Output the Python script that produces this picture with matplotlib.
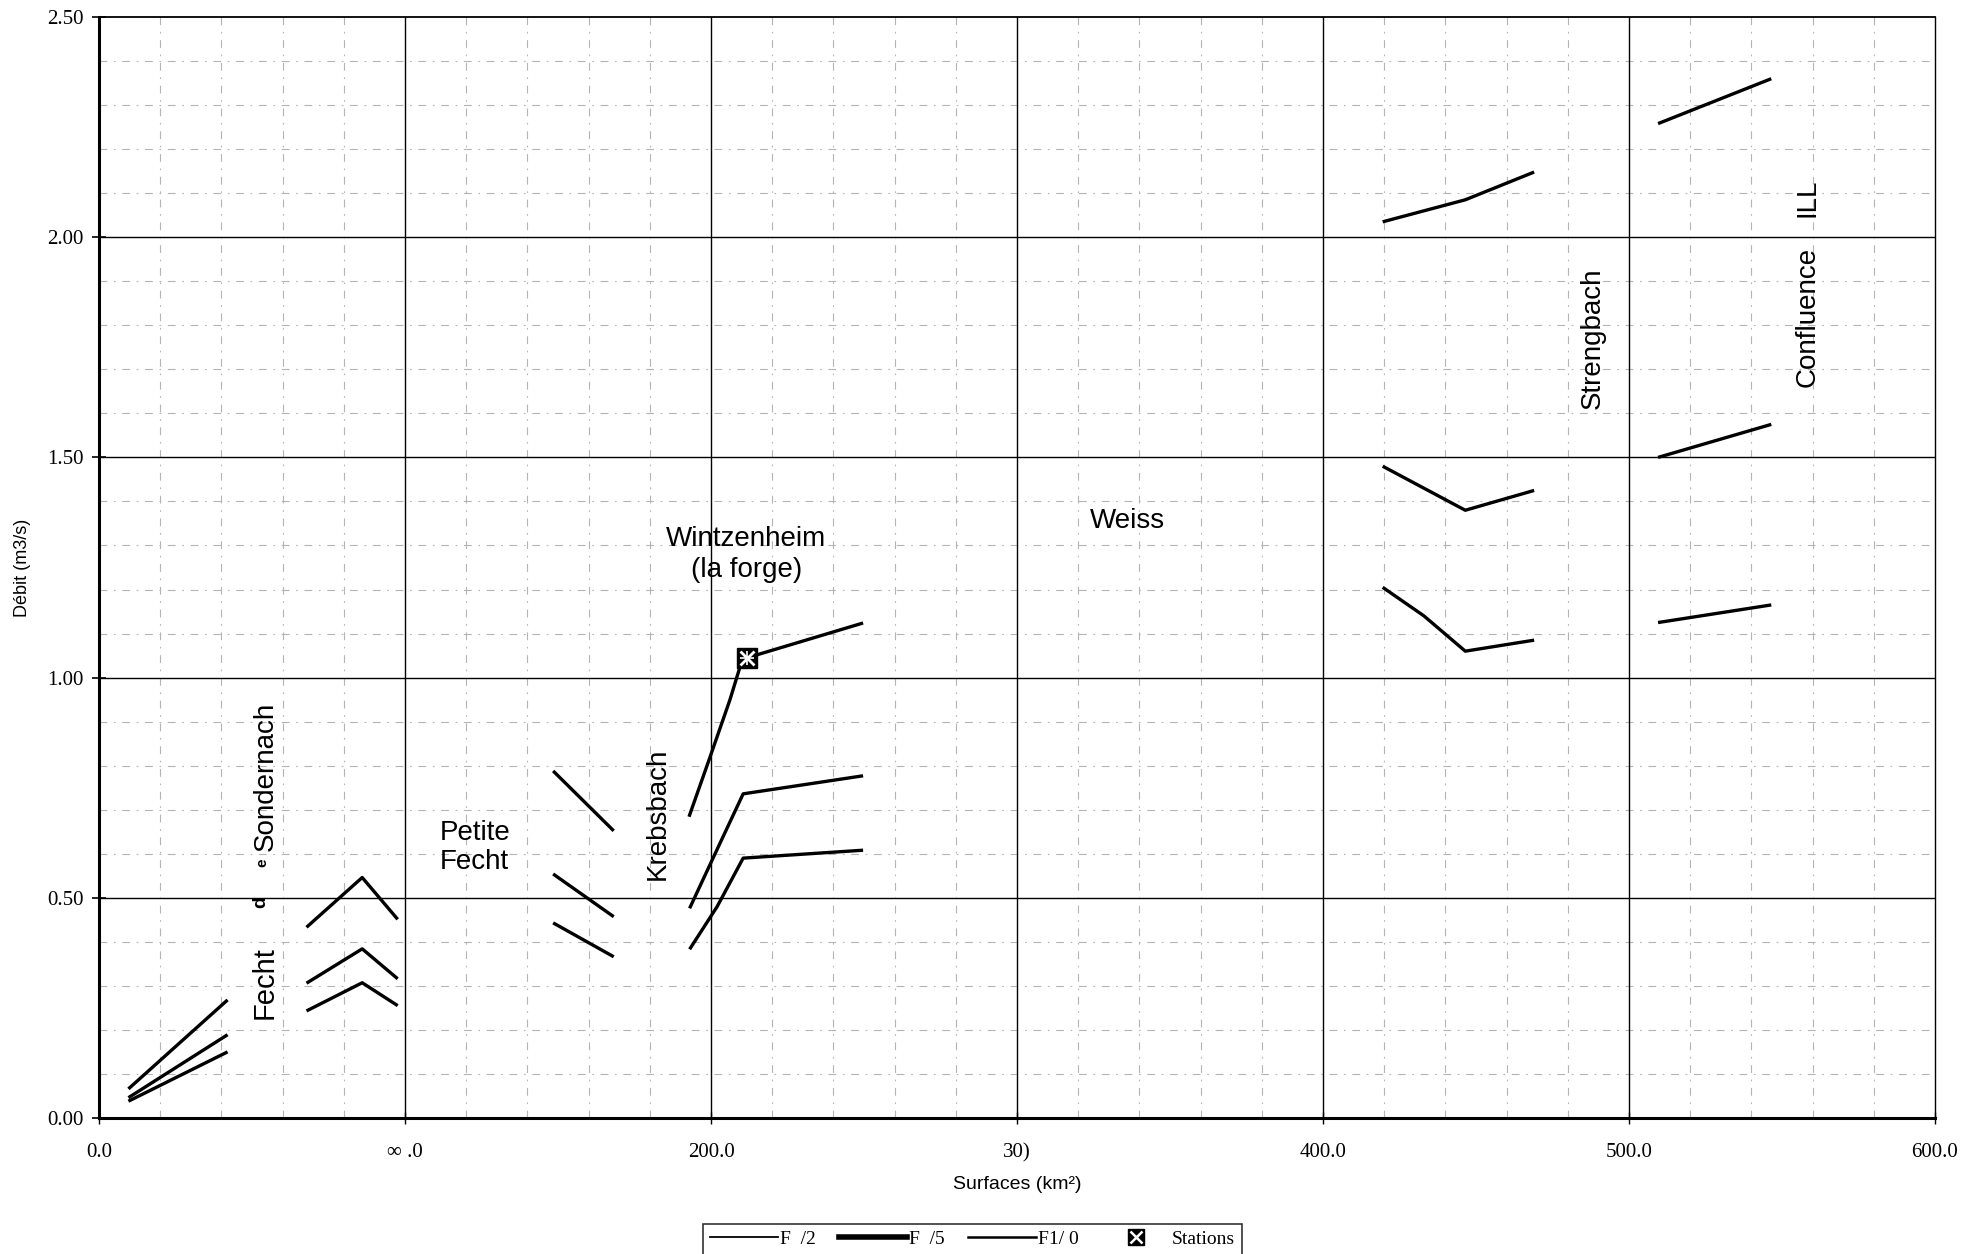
import matplotlib
matplotlib.use("Agg")
import matplotlib.pyplot as plt
from matplotlib.lines import Line2D
from matplotlib.legend_handler import HandlerTuple
import numpy as np

# ---------------- data ----------------
fecht_x = [9.6, 42.0]
fecht_f2 = [0.038, 0.150]
fecht_f5 = [0.046, 0.189]
fecht_f10 = [0.066, 0.268]

sond_x = [67.8, 86.0, 97.6]
sond_f2 = [0.243, 0.307, 0.255]
sond_f5 = [0.306, 0.384, 0.316]
sond_f10 = [0.433, 0.546, 0.451]

pfecht_x = [148.4, 168.2]
pfecht_f2 = [0.443, 0.366]
pfecht_f5 = [0.554, 0.457]
pfecht_f10 = [0.788, 0.652]

wintz_x10 = [192.8, 199.7, 206.2, 209.5, 211.8, 249.7]
wintz_f10 = [0.684, 0.820, 0.950, 1.025, 1.045, 1.124]
wintz_x5 = [193.0, 202.0, 210.5, 249.7]
wintz_f5 = [0.476, 0.610, 0.736, 0.777]
wintz_x2 = [193.0, 202.0, 210.5, 249.7]
wintz_f2 = [0.383, 0.480, 0.590, 0.608]

weiss_x = [419.5, 446.5, 469.0]
weiss_f10 = [2.035, 2.085, 2.148]
weiss_f5 = [1.480, 1.380, 1.425]
weiss_x2 = [419.5, 433.0, 446.5, 469.0]
weiss_f2 = [1.205, 1.140, 1.060, 1.085]

ill_x = [509.5, 546.5]
ill_f10 = [2.258, 2.360]
ill_f5 = [1.500, 1.575]
ill_f2 = [1.125, 1.165]

station_x = [211.8]
station_y = [1.045]

yticks = [0.0, 0.5, 1.0, 1.5, 2.0, 2.5]
ytick_labels = ["0.00", "0.50", "1.00", "1.50", "2.00", "2.50"]
xticks = [0, 100, 200, 300, 400, 500, 600]
xtick_labels = ["0.0", "\u221e .0", "200.0", "30)", "400.0", "500.0", "600.0"]

legend_labels = ["F  /2", "F  /5", "F1/ 0", "Stations"]

# ---------------- figure ----------------
fig = plt.figure(figsize=(19.85, 12.54), dpi=100)
ax = fig.add_axes([0.0499, 0.1085, 0.9249, 0.8779])
ax.set_xlim(0, 600)
ax.set_ylim(0, 2.5)

# grids
for xv in np.arange(20, 600, 20):
    if xv % 100 != 0:
        ax.axvline(xv, color="#b4b4b4", lw=0.8, ls=(0, (7, 6, 1.5, 6)), zorder=1)
for k in range(1, 25):
    if k % 5 != 0:
        ax.axhline(k / 10.0, color="#b4b4b4", lw=0.8, ls=(0, (7, 6, 1.5, 6)), zorder=1)
for xv in [100, 200, 300, 400, 500]:
    ax.axvline(xv, color="black", lw=1.0, zorder=1.5)
for yv in [0.5, 1.0, 1.5, 2.0]:
    ax.axhline(yv, color="black", lw=1.0, zorder=1.5)

lw = 2.4
series = [
    (fecht_x, fecht_f2), (fecht_x, fecht_f5), (fecht_x, fecht_f10),
    (sond_x, sond_f2), (sond_x, sond_f5), (sond_x, sond_f10),
    (pfecht_x, pfecht_f2), (pfecht_x, pfecht_f5), (pfecht_x, pfecht_f10),
    (wintz_x2, wintz_f2), (wintz_x5, wintz_f5), (wintz_x10, wintz_f10),
    (weiss_x2, weiss_f2), (weiss_x, weiss_f5), (weiss_x, weiss_f10),
    (ill_x, ill_f2), (ill_x, ill_f5), (ill_x, ill_f10),
]
for xs, ys in series:
    ax.plot(xs, ys, color="black", lw=lw, solid_capstyle="butt", zorder=3)

ax.plot(station_x, station_y, ls="none", marker="s", ms=14, color="black", zorder=4)
ax.plot(station_x, station_y, ls="none", marker="x", ms=10, mew=2.0, color="white", zorder=5)
ax.plot(station_x, station_y, ls="none", marker="+", ms=10, mew=1.2, color="white", zorder=5)

# text labels
sans = ["Liberation Sans", "DejaVu Sans"]
fs = 20
ax.text(54.0, 0.307, "Fecht", rotation=90, ha="center", va="center", fontsize=21, family=sans)
ax.text(53.0, 0.49, "d", rotation=90, ha="center", va="center", fontsize=14, family=sans, weight="bold")
ax.text(53.5, 0.58, "e", rotation=90, ha="center", va="center", fontsize=11, family=sans, weight="bold")
ax.text(54.5, 0.775, "Sondernach", rotation=90, ha="center", va="center", fontsize=fs, family=sans)
ax.text(122.8, 0.615, "Petite\nFecht", ha="center", va="center", fontsize=fs, family=sans, linespacing=1.15)
ax.text(182.5, 0.69, "Krebsbach", rotation=90, ha="center", va="center", fontsize=fs, family=sans)
ax.text(211.5, 1.28, "Wintzenheim\n(la forge)", ha="center", va="center", fontsize=fs, family=sans, linespacing=1.25)
ax.text(336.0, 1.355, "Weiss", ha="center", va="center", fontsize=fs, family=sans)
ax.text(488.0, 1.77, "Strengbach", rotation=90, ha="center", va="center", fontsize=fs, family=sans)
ax.text(558.5, 1.82, "Confluence", rotation=90, ha="center", va="center", fontsize=fs, family=sans)
ax.text(558.5, 2.09, "ILL", rotation=90, ha="center", va="center", fontsize=fs, family=sans)

# axes styling
serif = ["Liberation Serif", "DejaVu Serif"]
ax.set_yticks(yticks)
ax.set_yticklabels(ytick_labels, family=serif, fontsize=15)
ax.set_xticks(xticks)
ax.set_xticklabels(xtick_labels, family=serif, fontsize=15)
ax.tick_params(axis="y", direction="inout", length=10, width=1.2, pad=6)
ax.tick_params(axis="x", direction="inout", length=8, width=1.0, pad=14)
for s in ["left", "bottom"]:
    ax.spines[s].set_linewidth(2.2)
ax.spines["top"].set_linewidth(1.3)
ax.spines["right"].set_linewidth(1.0)

ax.set_ylabel("Débit (m3/s)", family=sans, fontsize=13, labelpad=12)
ax.set_xlabel("Surfaces (km²)", family=sans, fontsize=14, labelpad=10)

h1 = Line2D([], [], color="black", lw=1.3)
h2 = Line2D([], [], color="black", lw=4.0)
h3 = Line2D([], [], color="black", lw=1.8)
hs1 = Line2D([], [], ls="none", marker="s", ms=11, color="black")
hs2 = Line2D([], [], ls="none", marker="x", ms=8, mew=1.8, color="white")
leg = fig.legend([h1, h2, h3, (hs1, hs2)], legend_labels,
                 handler_map={tuple: HandlerTuple(ndivide=1)},
                 loc="upper center", bbox_to_anchor=(0.49, 0.032), ncol=4,
                 frameon=True, fancybox=False, edgecolor="black",
                 prop={"family": serif, "size": 14}, handlelength=3.5,
                 handletextpad=0.1, columnspacing=1.2, borderpad=0.35)
leg.get_frame().set_linewidth(1.2)

fig.savefig("out.png", dpi=100)
